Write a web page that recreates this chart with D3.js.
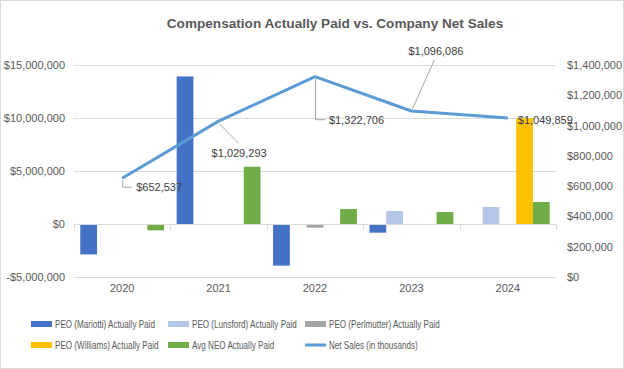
<!DOCTYPE html>
<html><head><meta charset="utf-8">
<script src="https://cdn.jsdelivr.net/npm/d3@7"></script>
<style>body{margin:0;background:#fff}svg{display:block;font-family:"Liberation Sans",Arial,sans-serif}</style>
</head><body><svg id="c" width="624" height="369"></svg>
<script>
const years = ["2020","2021","2022","2023","2024"];
const seriesNames = ["PEO (Mariotti) Actually Paid","PEO (Lunsford) Actually Paid","PEO (Perlmutter) Actually Paid","PEO (Williams) Actually Paid","Avg NEO Actually Paid"];
const mariotti   = [-2870000, 13920000, -3930000, -820000, 0];
const lunsford   = [0, 0, 0, 1230000, 1600000];
const perlmutter = [0, 0, -350000, 0, 0];
const williams   = [0, 0, 0, 0, 9970000];
const avgNeo     = [-600000, 5400000, 1420000, 1130000, 2080000];
const netSales   = [652537, 1029293, 1322706, 1096086, 1049859];
const leftTicks  = [-5000000, 0, 5000000, 10000000, 15000000];
const rightTicks = [0, 200000, 400000, 600000, 800000, 1000000, 1200000, 1400000];
const lineName = "Net Sales (in thousands)";
const colors = ["#4472C4","#B4C7E7","#A5A5A5","#FFC000","#70AD47"];
const lineColor = "#5B9BD5";
// label placement (dx, dy of text start relative to point; leader type)
const labelLayout = [
  {dx:14, dy:9, leader:"elbow"},
  {dx:-7, dy:32, leader:"diag"},
  {dx:14, dy:43, leader:"elbow"},
  {dx:-3, dy:-60, leader:"diag"},
  {dx:10, dy:2, leader:"none"}
];

const svg = d3.select("#c");
const W=624,H=369;
svg.append("rect").attr("x",0.5).attr("y",0.5).attr("width",W-1).attr("height",H-1).attr("fill","#fff").attr("stroke","#D9D9D9");

const x0=74, x1=556, yTop=65, yBot=277;
const x = d3.scaleBand().domain(years).range([x0,x1]).paddingInner(0).paddingOuter(0);
const yL = d3.scaleLinear().domain([-5000000,15000000]).range([yBot,yTop]);
const yR = d3.scaleLinear().domain([0,1400000]).range([yBot,yTop]);
const groupPad = 0.13;
const xs = d3.scaleBand().domain(d3.range(5)).range([x.bandwidth()*groupPad/2, x.bandwidth()*(1-groupPad/2)]).padding(0);

const txt="#595959";
// title
svg.append("text").attr("x",335).attr("y",28).attr("text-anchor","middle").attr("font-weight","bold")
  .attr("font-size",13.6).attr("fill",txt).text("Compensation Actually Paid vs. Company Net Sales");

// gridlines
svg.append("g").selectAll("line").data(leftTicks).join("line")
  .attr("x1",x0).attr("x2",x1).attr("y1",d=>Math.round(yL(d))+0.5).attr("y2",d=>Math.round(yL(d))+0.5)
  .attr("stroke","#D9D9D9");

// axis labels
const fmt = d => (d<0?"-":"")+"$"+d3.format(",")(Math.abs(d));
svg.append("g").selectAll("text").data(leftTicks).join("text")
  .attr("x",65).attr("y",d=>yL(d)+4).attr("text-anchor","end").attr("font-size",11).attr("fill",txt).text(fmt);
svg.append("g").selectAll("text").data(rightTicks).join("text")
  .attr("x",567).attr("y",d=>yR(d)+4).attr("text-anchor","start").attr("font-size",11).attr("fill",txt).text(fmt);

// bars
const all=[mariotti,lunsford,perlmutter,williams,avgNeo];
const bars=[];
all.forEach((s,si)=>s.forEach((v,yi)=>{ if(v!==0) bars.push({si,yi,v}); }));
svg.append("g").selectAll("rect").data(bars).join("rect")
  .attr("x",d=>x(years[d.yi])+xs(d.si)).attr("width",xs.bandwidth())
  .attr("y",d=>yL(Math.max(0,d.v))).attr("height",d=>Math.abs(yL(d.v)-yL(0)))
  .attr("fill",d=>colors[d.si]);

// zero axis line + ticks
const z=Math.round(yL(0))+0.5;
svg.append("line").attr("x1",x0).attr("x2",x1).attr("y1",z).attr("y2",z).attr("stroke","#D9D9D9");
svg.append("g").selectAll("line").data(d3.range(years.length+1)).join("line")
  .attr("x1",i=>Math.round(x0+i*x.bandwidth())+0.5).attr("x2",i=>Math.round(x0+i*x.bandwidth())+0.5)
  .attr("y1",z).attr("y2",z+5).attr("stroke","#D9D9D9");

// year labels
svg.append("g").selectAll("text").data(years).join("text")
  .attr("x",d=>x(d)+x.bandwidth()/2).attr("y",292).attr("text-anchor","middle").attr("font-size",11).attr("fill",txt).text(d=>d);

// line
const pts = netSales.map((v,i)=>[x(years[i])+x.bandwidth()/2, yR(v)]);
svg.append("path").attr("d",d3.line()(pts)).attr("fill","none").attr("stroke",lineColor).attr("stroke-width",3).attr("stroke-linejoin","round");

// data labels
const lf = d => "$"+d3.format(",")(d);
netSales.forEach((v,i)=>{
  const [px,py]=pts[i]; const L=labelLayout[i];
  const tx=px+L.dx, ty=py+L.dy;
  if(L.leader==="elbow"){
    svg.append("path").attr("d",`M${px+0.5},${py+2}V${ty}H${tx-4}`).attr("fill","none").attr("stroke","#A6A6A6");
  } else if(L.leader==="diag"){
    const ey = L.dy>0 ? ty-10 : ty+9;
    const ex = L.dy>0 ? tx+27 : tx+26;
    svg.append("line").attr("x1",px+1).attr("y1",py+(L.dy>0?3:-2)).attr("x2",ex).attr("y2",ey).attr("stroke","#A6A6A6");
  }
  svg.append("text").attr("x",tx).attr("y",ty+4).attr("font-size",11).attr("fill","#404040").text(lf(v));
});

// legend
const legendItems = seriesNames.map((n,i)=>({n,c:colors[i],t:"bar"})).concat([{n:lineName,c:lineColor,t:"line"}]);
const colX=[31,168,305], rowY=[324,345];
// condense legend text horizontally so the first label spans ~100px like the reference
const legFs = 10;
const probe = svg.append("text").attr("font-size",legFs).text(seriesNames[0]);
const sx = 100/probe.node().getComputedTextLength();
probe.remove();
legendItems.forEach((d,i)=>{
  const cx=colX[i%3], cy=rowY[Math.floor(i/3)];
  if(d.t==="bar") svg.append("rect").attr("x",cx).attr("y",cy-3).attr("width",21).attr("height",6).attr("fill",d.c);
  else svg.append("line").attr("x1",cx).attr("x2",cx+21).attr("y1",cy).attr("y2",cy).attr("stroke",d.c).attr("stroke-width",3);
  svg.append("text").attr("transform",`translate(${cx+24},${cy+3.5}) scale(${sx},1)`)
    .attr("font-size",legFs).attr("fill",txt).text(d.n);
});
</script></body></html>
